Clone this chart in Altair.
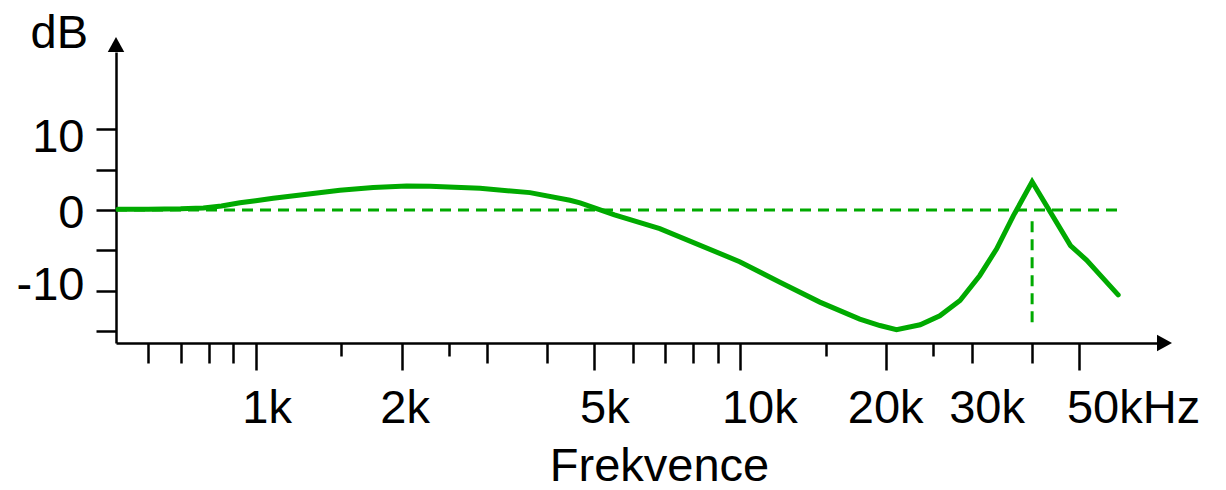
import altair as alt
import pandas as pd

# ---- data ----
freq_hz = [520, 600, 700, 780, 850, 928, 1000, 1087, 1274, 1492, 1748, 2049, 2288,
           2903, 3681, 4450, 4670, 5052, 5500, 6820, 9970, 12070, 14590, 17640,
           19410, 21000, 23500, 25800, 28400, 31200, 33800, 36600, 40000, 48000,
           51800, 60200]
gain_db = [0.1, 0.1, 0.15, 0.25, 0.5, 0.9, 1.15, 1.44, 1.94, 2.44, 2.77, 2.97, 2.95,
           2.68, 2.15, 1.2, 0.87, 0.17, -0.6, -2.3, -6.4, -8.95, -11.4, -13.5,
           -14.3, -14.8, -14.2, -13.1, -11.2, -8.1, -4.8, -0.7, 3.5, -4.4,
           -6.2, -10.5]

x_domain = [515, 72400]
y_domain = [-16.46, 19.55]

zero_line_f = [515, 60500]
zero_line_db = [0]
marker_f = [40000]
marker_db = [-1.4, -14.3]

x_tick_values = [600, 700, 800, 900, 1000, 1500, 2000, 2500, 3000, 4000, 5000, 6000,
                 7000, 8000, 9000, 10000, 15000, 20000, 25000, 30000, 40000, 50000]
x_long_ticks = [1000, 2000, 5000, 10000, 20000, 50000]
x_short_ticks = [1500, 2500, 15000, 25000]
x_label_values = [1000, 2000, 5000, 10000, 20000, 30000, 50000]
x_label_texts = ["1k", "2k", "5k", "10k", "20k", "30k", "50kHz"]
x_label_shift = [11, 3, 10, 19, -1, 15, 54]

y_tick_values = [-15, -10, -5, 0, 5, 10]
y_label_values = [-10, 0, 10]
y_label_shift = [-5, 4, 8]

GREEN = "#00aa00"
FONT = "Liberation Sans"
FS = 47

df = pd.DataFrame({"f": freq_hz, "db": gain_db})

label_expr = " : ".join(
    [f"datum.value == {v} ? '{t}'" for v, t in zip(x_label_values, x_label_texts)]
) + " : ''"

long_test = "indexof([" + ",".join(map(str, x_long_ticks)) + "], datum.value) >= 0"
short_test = "indexof([" + ",".join(map(str, x_short_ticks)) + "], datum.value) >= 0"

x_tick_size = {
    "condition": [
        {"test": long_test, "value": 27},
        {"test": short_test, "value": 13},
    ],
    "value": 20,
}
# keep all label baselines on one line whatever the tick length
x_label_padding = {
    "condition": [
        {"test": long_test, "value": 52},
        {"test": short_test, "value": 66},
    ],
    "value": 59,
}
x_label_offset = {
    "condition": [
        {"test": f"datum.value == {v}", "value": s} for v, s in zip(x_label_values, x_label_shift)
    ],
    "value": 0,
}
y_label_offset = {
    "condition": [
        {"test": f"datum.value == {v}", "value": s} for v, s in zip(y_label_values, y_label_shift)
    ],
    "value": 0,
}

x_enc = alt.X(
    "f:Q",
    scale=alt.Scale(type="log", domain=x_domain, nice=False),
    axis=alt.Axis(
        values=x_tick_values,
        labelExpr=label_expr,
        tickSize=x_tick_size,
        tickWidth=2.5,
        tickColor="black",
        domainColor="black",
        domainWidth=2.5,
        grid=False,
        labelFont=FONT,
        labelFontSize=FS,
        labelColor="black",
        labelBaseline="alphabetic",
        labelPadding=x_label_padding,
        labelOffset=x_label_offset,
        labelOverlap=False,
        labelBound=False,
        labelFlush=False,
        title="Frekvence",
        titleFont=FONT,
        titleFontSize=FS,
        titleFontWeight="normal",
        titleColor="black",
        titleAlign="center",
        titleBaseline="alphabetic",
        titleAnchor="start",
        titleX=543,
        titleY=137,
    ),
)
y_enc = alt.Y(
    "db:Q",
    scale=alt.Scale(domain=y_domain, nice=False, zero=False),
    axis=alt.Axis(
        values=y_tick_values,
        labelExpr="datum.value % 10 == 0 ? toString(datum.value) : ''",
        tickSize=20,
        tickWidth=2.5,
        tickColor="black",
        domainColor="black",
        domainWidth=2.5,
        grid=False,
        labelFont=FONT,
        labelFontSize=FS,
        labelColor="black",
        labelPadding=12,
        labelOffset=y_label_offset,
        labelOverlap=False,
        labelBound=False,
        labelFlush=False,
        title="dB",
        titleFont=FONT,
        titleFontSize=FS,
        titleFontWeight="normal",
        titleColor="black",
        titleAngle=0,
        titleAlign="left",
        titleBaseline="alphabetic",
        titleAnchor="start",
        titleX=-86,
        titleY=-5,
    ),
)

curve = alt.Chart(df).mark_line(color=GREEN, strokeWidth=5, strokeJoin="miter",
                                strokeCap="round").encode(x=x_enc, y=y_enc)

zero_df = pd.DataFrame({"f": [zero_line_f[0]], "f2": [zero_line_f[1]], "db": zero_line_db})
zero_rule = alt.Chart(zero_df).mark_rule(color=GREEN, strokeWidth=3, strokeDash=[11, 7]).encode(
    x="f:Q", x2="f2:Q", y="db:Q")

mark_df = pd.DataFrame({"f": marker_f, "db": [marker_db[0]], "db2": [marker_db[1]]})
mark_rule = alt.Chart(mark_df).mark_rule(color=GREEN, strokeWidth=3, strokeDash=[11, 7]).encode(
    x="f:Q", y="db:Q", y2="db2:Q")

right_arrow = alt.Chart(pd.DataFrame({"f": [x_domain[1]], "db": [y_domain[0]]})).mark_point(
    shape="M1,0L0,-0.55L0,0.55Z", size=900, filled=True, color="black", opacity=1
).encode(x="f:Q", y="db:Q")
up_arrow = alt.Chart(pd.DataFrame({"f": [x_domain[0]], "db": [y_domain[1]]})).mark_point(
    shape="M0,-1L0.55,0L-0.55,0Z", size=900, filled=True, color="black", opacity=1
).encode(x="f:Q", y="db:Q")

chart = alt.layer(curve, zero_rule, mark_rule, right_arrow, up_arrow).properties(
    width=1041,
    height=291,
    autosize=alt.AutoSizeParams(type="none"),
    padding={"left": 108, "top": 44, "right": 53, "bottom": 139},
    background="white",
).configure_view(stroke=None)

chart.save("out.html", embed_options={"renderer": "svg", "actions": False})
